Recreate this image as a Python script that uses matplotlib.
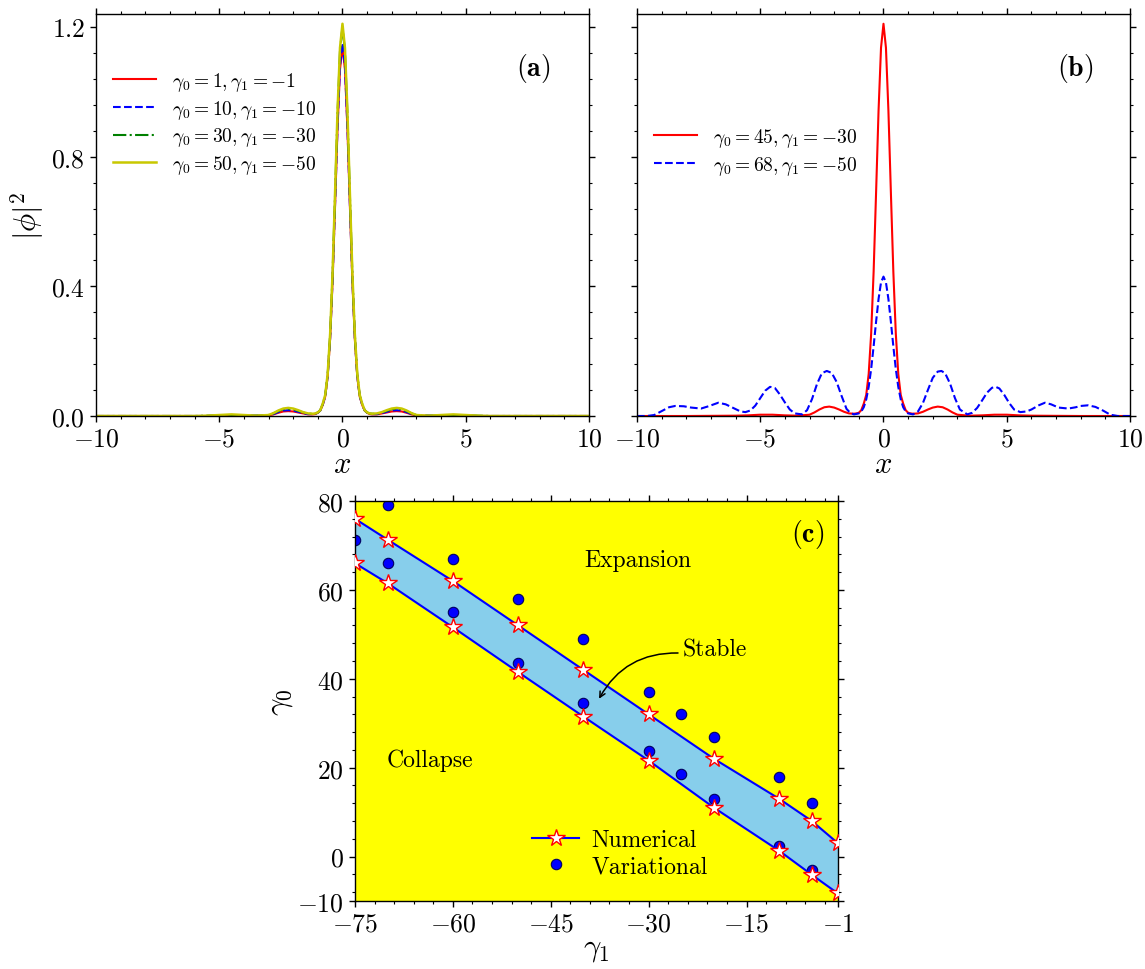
import matplotlib
matplotlib.use("Agg")
import matplotlib.pyplot as plt
from matplotlib.ticker import MultipleLocator, FixedLocator, FormatStrFormatter

plt.rcParams.update({
    "font.family": "serif",
    "font.serif": ["cmr10", "DejaVu Serif"],
    "mathtext.fontset": "cm",
    "axes.formatter.use_mathtext": True,
    "axes.unicode_minus": True,
})

# ---------------- data: panel (a) ----------------
x_a = [-10, -8, -6, -5.5, -5.0, -4.5, -4.0, -3.5, -3.0, -2.8, -2.6, -2.4, -2.2, -2.0, -1.8, -1.6, -1.4,
       -1.2, -1.1, -1.0, -0.9, -0.8, -0.7, -0.6, -0.5, -0.4, -0.3, -0.2, -0.1, 0.0,
       0.1, 0.2, 0.3, 0.4, 0.5, 0.6, 0.7, 0.8, 0.9, 1.0, 1.1, 1.2,
       1.4, 1.6, 1.8, 2.0, 2.2, 2.4, 2.6, 2.8, 3.0, 3.5, 4.0, 4.5, 5.0, 5.5, 6, 8, 10]

a_g1 = [0, 0, 0, 0.0, 0.001, 0.002, 0.001, 0.0005, 0.002, 0.005, 0.010, 0.014, 0.015, 0.014, 0.011, 0.008, 0.005,
        0.005, 0.006, 0.010, 0.017, 0.034, 0.060, 0.122, 0.239, 0.419, 0.650, 0.888, 1.070, 1.140,
        1.070, 0.888, 0.650, 0.419, 0.239, 0.122, 0.060, 0.034, 0.017, 0.010, 0.006, 0.005,
        0.005, 0.008, 0.011, 0.014, 0.015, 0.014, 0.010, 0.005, 0.002, 0.0005, 0.001, 0.002, 0.001, 0.0, 0, 0, 0]
a_g10 = [0, 0, 0, 0.0, 0.001, 0.002, 0.001, 0.001, 0.002, 0.006, 0.012, 0.017, 0.018, 0.017, 0.013, 0.009, 0.006,
         0.006, 0.007, 0.010, 0.017, 0.035, 0.061, 0.123, 0.241, 0.423, 0.656, 0.896, 1.080, 1.150,
         1.080, 0.896, 0.656, 0.423, 0.241, 0.123, 0.061, 0.035, 0.017, 0.010, 0.007, 0.006,
         0.006, 0.009, 0.013, 0.017, 0.018, 0.017, 0.012, 0.006, 0.002, 0.001, 0.001, 0.002, 0.001, 0.0, 0, 0, 0]
a_g30 = [0, 0, 0, 0.001, 0.002, 0.003, 0.002, 0.001, 0.003, 0.008, 0.015, 0.021, 0.022, 0.021, 0.016, 0.011, 0.007,
         0.007, 0.008, 0.011, 0.018, 0.037, 0.064, 0.128, 0.252, 0.442, 0.684, 0.935, 1.127, 1.200,
         1.127, 0.935, 0.684, 0.442, 0.252, 0.128, 0.064, 0.037, 0.018, 0.011, 0.008, 0.007,
         0.007, 0.011, 0.016, 0.021, 0.022, 0.021, 0.015, 0.008, 0.003, 0.001, 0.002, 0.003, 0.002, 0.001, 0, 0, 0]
a_g50 = [0, 0, 0, 0.001, 0.003, 0.005, 0.003, 0.001, 0.003, 0.009, 0.017, 0.023, 0.025, 0.023, 0.018, 0.012, 0.008,
         0.007, 0.008, 0.011, 0.018, 0.038, 0.065, 0.130, 0.254, 0.445, 0.690, 0.942, 1.136, 1.210,
         1.136, 0.942, 0.690, 0.445, 0.254, 0.130, 0.065, 0.038, 0.018, 0.011, 0.008, 0.007,
         0.008, 0.012, 0.018, 0.023, 0.025, 0.023, 0.017, 0.009, 0.003, 0.001, 0.003, 0.005, 0.003, 0.001, 0, 0, 0]
labels_a = [r"$\gamma_0=1,\gamma_1=-1$", r"$\gamma_0=10,\gamma_1=-10$",
            r"$\gamma_0=30,\gamma_1=-30$", r"$\gamma_0=50,\gamma_1=-50$"]

# ---------------- data: panel (b) ----------------
b_red = [0, 0, 0.001, 0.002, 0.004, 0.004, 0.002, 0.001, 0.004, 0.011, 0.020, 0.027, 0.029, 0.026, 0.020, 0.013, 0.008,
         0.007, 0.008, 0.010, 0.018, 0.038, 0.065, 0.130, 0.254, 0.445, 0.690, 0.942, 1.136, 1.210,
         1.136, 0.942, 0.690, 0.445, 0.254, 0.130, 0.065, 0.038, 0.018, 0.010, 0.008, 0.007,
         0.008, 0.013, 0.020, 0.026, 0.029, 0.027, 0.020, 0.011, 0.004, 0.001, 0.002, 0.004, 0.004, 0.002, 0.001, 0, 0]

x_b2 = [-10, -9.6, -9.3, -9.0, -8.7, -8.45, -8.1, -7.8, -7.4, -7.1, -6.7, -6.4, -6.1, -5.8, -5.6, -5.4,
        -5.2, -5.0, -4.8, -4.6, -4.4, -4.2, -4.0, -3.8, -3.6, -3.3, -3.1, -2.9, -2.7, -2.5, -2.3,
        -2.1, -1.9, -1.7, -1.5, -1.35, -1.2, -1.0, -0.9, -0.8, -0.7, -0.6, -0.5, -0.4, -0.3, -0.2, -0.1, 0.0,
        0.1, 0.2, 0.3, 0.4, 0.5, 0.6, 0.7, 0.8, 0.9, 1.0, 1.2, 1.4, 1.6, 1.8, 2.0, 2.2, 2.35,
        2.5, 2.7, 2.9, 3.1, 3.4, 3.6, 3.8, 4.0, 4.2, 4.4, 4.55, 4.7, 4.9, 5.1, 5.3, 5.55,
        5.8, 6.0, 6.3, 6.55, 6.8, 7.1, 7.5, 7.8, 8.0, 8.3, 8.6, 8.9, 9.2, 9.5, 10]
b_blue = [0, 0.0, 0.003, 0.015, 0.027, 0.031, 0.030, 0.026, 0.023, 0.030, 0.041, 0.036, 0.025, 0.014, 0.012, 0.017,
          0.032, 0.055, 0.078, 0.090, 0.086, 0.066, 0.042, 0.020, 0.008, 0.005, 0.018, 0.052, 0.098, 0.132, 0.139,
          0.133, 0.105, 0.062, 0.022, 0.010, 0.005, 0.008, 0.014, 0.027, 0.051, 0.090, 0.145, 0.215, 0.291, 0.361, 0.412, 0.430,
          0.412, 0.361, 0.291, 0.215, 0.145, 0.090, 0.051, 0.027, 0.014, 0.008, 0.005, 0.014, 0.040, 0.080, 0.118, 0.137, 0.139,
          0.132, 0.100, 0.055, 0.020, 0.005, 0.010, 0.025, 0.048, 0.072, 0.087, 0.090, 0.085, 0.065, 0.040, 0.020, 0.012,
          0.014, 0.020, 0.033, 0.041, 0.036, 0.026, 0.023, 0.027, 0.031, 0.033, 0.028, 0.017, 0.004, 0.0, 0]
labels_b = [r"$\gamma_0=45,\gamma_1=-30$", r"$\gamma_0=68,\gamma_1=-50$"]

# ---------------- data: panel (c) ----------------
g1_num = [-75, -70, -60, -50, -40, -30, -20, -10, -5, -1]
g0_upper = [76, 71.3, 62, 52, 42, 32, 22, 13, 8, 3]
g0_lower = [66, 61.5, 51.6, 41.5, 31.5, 21.6, 11, 1.3, -4.1, -8.3]

g1_var = [-75, -70, -70, -60, -60, -50, -50, -40, -40, -30, -30, -25, -25, -20, -20, -10, -10, -5, -5]
g0_var = [71.2, 79.2, 66, 67, 55, 58, 43.5, 49, 34.5, 37, 23.8, 32, 18.5, 27, 13, 18, 2.3, 12, -3]

# ---------------- figure ----------------
fig = plt.figure(figsize=(11.45, 9.70), dpi=100)
axa = fig.add_axes([0.0838, 0.5701, 0.4306, 0.4144])
axb = fig.add_axes([0.5563, 0.5701, 0.4306, 0.4144])
axc = fig.add_axes([0.3100, 0.0701, 0.4218, 0.4124])

TICK_FS = 18.5

def style(ax):
    ax.tick_params(which="both", direction="out", top=True, right=True, labelsize=TICK_FS)
    ax.tick_params(which="major", length=4.3, width=1, pad=3.5)
    ax.tick_params(which="minor", length=2.4, width=0.8)
    for s in ax.spines.values():
        s.set_linewidth(1.0)

# panel (a)
axa.plot(x_a, a_g1, color="red", lw=1.5, label=labels_a[0])
axa.plot(x_a, a_g10, color="blue", lw=1.5, ls="--", label=labels_a[1])
axa.plot(x_a, a_g30, color="green", lw=1.5, ls="-.", label=labels_a[2])
axa.plot(x_a, a_g50, color="#c8c800", lw=1.8, label=labels_a[3])
axa.set_xlim(-10, 10)
axa.set_ylim(0, 1.24)
axa.set_yticks([0.0, 0.4, 0.8, 1.2])
axa.set_xticks([-10, -5, 0, 5, 10])
axa.xaxis.set_minor_locator(MultipleLocator(1))
axa.yaxis.set_minor_locator(MultipleLocator(0.08))
axa.yaxis.set_major_formatter(FormatStrFormatter(r"$%.1f$"))
style(axa)
axa.set_xlabel(r"$x$", fontsize=22, labelpad=0)
axa.set_ylabel(r"$|\phi|^2$", fontsize=22, labelpad=4)
axa.legend(loc="upper left", bbox_to_anchor=(0.0, 0.905), frameon=False, fontsize=14,
           handlelength=2.2, labelspacing=0.25, handletextpad=0.8)
axa.text(0.886, 0.866, r"$\mathbf{(a)}$", transform=axa.transAxes, fontsize=20,
         ha="center", va="center")

# panel (b)
axb.plot(x_a, b_red, color="red", lw=1.5, label=labels_b[0])
axb.plot(x_b2, b_blue, color="blue", lw=1.5, ls="--", label=labels_b[1])
axb.set_xlim(-10, 10)
axb.set_ylim(0, 1.24)
axb.set_yticks([0.0, 0.4, 0.8, 1.2])
axb.set_xticks([-10, -5, 0, 5, 10])
axb.xaxis.set_minor_locator(MultipleLocator(1))
axb.yaxis.set_minor_locator(MultipleLocator(0.08))
style(axb)
axb.tick_params(labelleft=False)
axb.set_xlabel(r"$x$", fontsize=22, labelpad=0)
axb.legend(loc="upper left", bbox_to_anchor=(0.0, 0.765), frameon=False, fontsize=14,
           handlelength=2.2, labelspacing=0.25, handletextpad=0.8)
axb.text(0.888, 0.866, r"$\mathbf{(b)}$", transform=axb.transAxes, fontsize=20,
         ha="center", va="center")

# panel (c)
axc.set_facecolor("#ffff00")
axc.fill_between(g1_num, g0_lower, g0_upper, color="#87ceeb", zorder=1)
axc.plot(g1_num, g0_upper, color="blue", lw=1.5, marker="*", ms=13, mfc="white",
         mec="red", mew=1.0, zorder=3, label="Numerical")
axc.plot(g1_num, g0_lower, color="blue", lw=1.5, marker="*", ms=13, mfc="white",
         mec="red", mew=1.0, zorder=3)
axc.plot(g1_var, g0_var, ls="none", marker="o", ms=7.5, mfc="blue", mec="#000060",
         mew=0.8, zorder=2, label="Variational")
axc.set_xlim(-75, -1)
axc.set_ylim(-10, 80)
axc.xaxis.set_major_locator(FixedLocator([-75, -60, -45, -30, -15, -1]))
axc.yaxis.set_major_locator(FixedLocator([-10, 0, 20, 40, 60, 80]))
axc.xaxis.set_minor_locator(MultipleLocator(3))
axc.yaxis.set_minor_locator(MultipleLocator(4))
style(axc)
axc.set_xlabel(r"$\gamma_1$", fontsize=22, labelpad=0)
axc.set_ylabel(r"$\gamma_0$", fontsize=22, labelpad=2)
axc.text(-31.6, 66.7, "Expansion", fontsize=17, ha="center", va="center")
axc.text(-63.5, 21.8, "Collapse", fontsize=17, ha="center", va="center")
axc.text(-24.8, 46.7, "Stable", fontsize=17, ha="left", va="center")
axc.annotate("", xy=(-37.6, 35.5), xytext=(-25.5, 45.8),
             arrowprops=dict(arrowstyle="->", color="black", lw=1.1,
                             connectionstyle="arc3,rad=0.3", shrinkA=0, shrinkB=0))
axc.text(0.938, 0.9175, r"$\mathbf{(c)}$", transform=axc.transAxes, fontsize=20,
         ha="center", va="center")
axc.legend(loc="lower left", bbox_to_anchor=(0.323, 0.005), frameon=False, fontsize=17,
           handlelength=2.0, labelspacing=0.2, handletextpad=0.5, numpoints=1)

fig.savefig("out.png", dpi=100)
